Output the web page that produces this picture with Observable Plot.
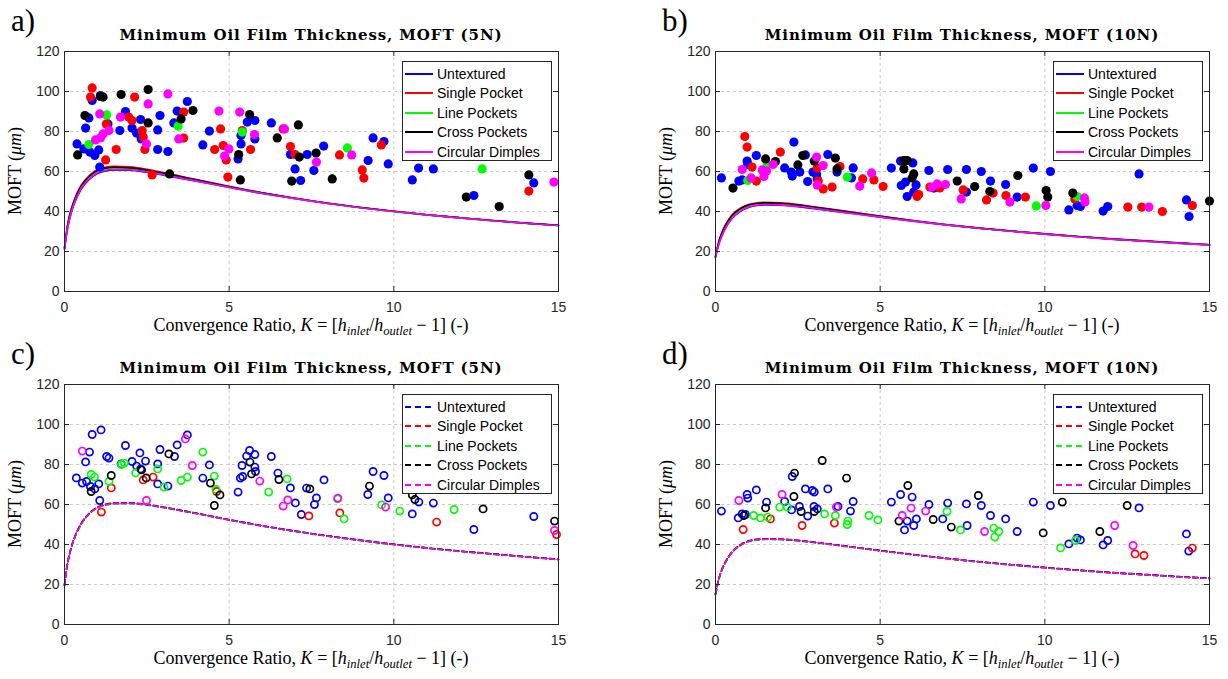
<!DOCTYPE html>
<html><head><meta charset="utf-8">
<script src="https://cdn.jsdelivr.net/npm/d3@7"></script>
<script src="https://cdn.jsdelivr.net/npm/@observablehq/plot@0.6"></script>
<style>
html,body{margin:0;padding:0;background:#fff;}
body{width:1228px;height:679px;overflow:hidden;position:relative;font-family:"Liberation Sans",Arial,sans-serif;}
.panel{position:absolute;width:577px;height:333px;}
.panel svg{position:absolute;left:0;top:0;}
.ov{position:absolute;white-space:nowrap;color:#000;}
.tag{font-family:"Liberation Serif",serif;font-size:31px;line-height:1;transform:translateY(-50%);}
.title{font-family:"DejaVu Serif",serif;font-weight:bold;font-size:15px;letter-spacing:0.9px;transform:translate(-50%,-50%);}
.xlab{font-family:"Liberation Serif",serif;font-size:18px;transform:translate(-50%,-50%);}
.ylab{font-family:"Liberation Serif",serif;font-size:18px;transform:translate(-50%,-50%) rotate(-90deg);}
.legend{position:absolute;border:1px solid #262626;background:#fff;box-sizing:border-box;}
.lrow{position:absolute;left:0;height:20px;display:flex;align-items:center;font-size:14px;color:#000;}
.lrow svg{position:static;margin-left:2px;margin-right:4px;}
sub{font-size:0.7em;vertical-align:-0.3em;}
</style></head>
<body>
<script>
// ---------------- data ----------------
const xTicks = [0, 5, 10, 15];
const yTicks = [0, 20, 40, 60, 80, 100, 120];
const seriesNames = ["Untextured", "Single Pocket", "Line Pockets", "Cross Pockets", "Circular Dimples"];
const seriesColors = ["#0000ff", "#ff0000", "#00ff00", "#000000", "#ff00ff"];
const panelTags = ["a)", "b)", "c)", "d)"];
const panelTitles = ["Minimum Oil Film Thickness, MOFT (5N)", "Minimum Oil Film Thickness, MOFT (10N)",
                     "Minimum Oil Film Thickness, MOFT (5N)", "Minimum Oil Film Thickness, MOFT (10N)"];

// theoretical curves, MOFT (um) at convergence ratio K
const curveK = [0, 0.05, 0.1, 0.2, 0.3, 0.5, 0.75, 1, 1.25, 1.5, 2, 2.5, 3, 4, 5, 6, 7, 8, 9, 10, 11, 12, 13, 14, 15];

const a_curve_untextured = [21, 27, 32, 39, 44, 51, 56, 59, 60.3, 60.8, 60.6, 59.6, 58.2, 55.2, 52, 49, 46.4, 44, 41.9, 40, 38.3, 36.8, 35.4, 34.1, 33];
const a_curve_single     = [22, 28.5, 34, 41, 46, 53, 58, 61, 62.2, 62.6, 62.3, 61.1, 59.5, 56, 52.6, 49.4, 46.6, 44.1, 42, 40.1, 38.4, 36.9, 35.5, 34.2, 33.1];
const a_curve_line       = [21.5, 27.8, 33, 40, 45, 52, 57, 60, 61.3, 61.7, 61.5, 60.4, 58.8, 55.6, 52.3, 49.2, 46.5, 44, 41.9, 40, 38.3, 36.8, 35.4, 34.1, 33];
const a_curve_cross      = [21.8, 28, 33.5, 40.5, 45.5, 52.5, 57.5, 60.5, 61.7, 62.1, 61.8, 60.7, 59.1, 55.8, 52.4, 49.3, 46.6, 44.1, 42, 40.1, 38.4, 36.9, 35.5, 34.2, 33.1];
const a_curve_circular   = [21.5, 27.5, 32.5, 39.5, 44.5, 51.5, 56.4, 59.4, 60.6, 61.1, 60.9, 59.9, 58.4, 55.3, 52.1, 49.1, 46.5, 44, 41.9, 40, 38.3, 36.8, 35.4, 34.1, 33];

const b_curve_untextured = [17, 20.5, 23.5, 28, 31.5, 36.5, 40, 42, 43, 43.3, 43.1, 42.4, 41.4, 39.3, 37.2, 35.2, 33.3, 31.6, 30.1, 28.7, 27.4, 26.2, 25.2, 24.2, 23.3];
const b_curve_single     = [17.5, 21.5, 25, 29.8, 33.3, 38.3, 41.6, 43.5, 44.3, 44.6, 44.3, 43.5, 42.4, 40.1, 37.7, 35.5, 33.5, 31.7, 30.2, 28.8, 27.5, 26.3, 25.3, 24.3, 23.4];
const b_curve_line       = [17.2, 21, 24.3, 29, 32.5, 37.5, 40.8, 42.8, 43.7, 44, 43.7, 43, 41.9, 39.7, 37.5, 35.3, 33.4, 31.6, 30.1, 28.7, 27.4, 26.2, 25.2, 24.2, 23.3];
const b_curve_cross      = [17.4, 21.3, 24.8, 29.5, 33, 38, 41.3, 43.2, 44, 44.3, 44, 43.2, 42.1, 39.9, 37.6, 35.4, 33.4, 31.7, 30.2, 28.8, 27.5, 26.3, 25.3, 24.3, 23.4];
const b_curve_circular   = [17.1, 20.7, 23.7, 28.2, 31.7, 36.7, 40.2, 42.2, 43.2, 43.5, 43.3, 42.6, 41.6, 39.4, 37.3, 35.2, 33.3, 31.6, 30.1, 28.7, 27.4, 26.2, 25.2, 24.2, 23.3];

const c_curve_untextured = [19.5, 26, 31, 38, 43, 50, 55.3, 58.3, 59.8, 60.4, 60.5, 59.8, 58.5, 55.5, 52.3, 49.3, 46.6, 44.2, 42, 40, 38.2, 36.6, 35.2, 33.8, 32.5];
const c_curve_single     = [19.8, 26.4, 31.4, 38.4, 43.4, 50.4, 55.6, 58.6, 60.1, 60.7, 60.8, 60, 58.7, 55.6, 52.4, 49.4, 46.7, 44.3, 42.1, 40.1, 38.3, 36.7, 35.3, 33.9, 32.6];
const c_curve_line       = [19.4, 25.9, 30.9, 37.9, 42.9, 49.9, 55.2, 58.2, 59.7, 60.3, 60.4, 59.7, 58.4, 55.4, 52.2, 49.2, 46.5, 44.1, 41.9, 39.9, 38.1, 36.5, 35.1, 33.7, 32.4];
const c_curve_cross      = [19.7, 26.2, 31.2, 38.2, 43.2, 50.2, 55.5, 58.5, 60, 60.6, 60.7, 59.9, 58.6, 55.6, 52.4, 49.4, 46.7, 44.3, 42.1, 40.1, 38.3, 36.7, 35.3, 33.9, 32.6];
const c_curve_circular   = [19.6, 26.1, 31.1, 38.1, 43.1, 50.1, 55.4, 58.4, 59.9, 60.5, 60.6, 59.9, 58.6, 55.5, 52.3, 49.3, 46.6, 44.2, 42, 40, 38.2, 36.6, 35.2, 33.8, 32.5];

const d_curve_untextured = [15, 19, 22.5, 27.5, 31, 36, 39.5, 41.5, 42.3, 42.6, 42.5, 41.9, 41, 39, 36.9, 34.9, 33, 31.3, 29.8, 28.4, 27.1, 25.9, 24.9, 23.9, 23];
const d_curve_single     = [15.3, 19.3, 22.8, 27.8, 31.3, 36.3, 39.8, 41.8, 42.6, 42.9, 42.7, 42.1, 41.2, 39.1, 37, 35, 33.1, 31.4, 29.9, 28.5, 27.2, 26, 25, 24, 23.1];
const d_curve_line       = [14.9, 18.9, 22.4, 27.4, 30.9, 35.9, 39.4, 41.4, 42.2, 42.5, 42.4, 41.8, 40.9, 38.9, 36.8, 34.8, 32.9, 31.2, 29.7, 28.3, 27, 25.8, 24.8, 23.8, 22.9];
const d_curve_cross      = [15.2, 19.2, 22.7, 27.7, 31.2, 36.2, 39.7, 41.7, 42.5, 42.8, 42.6, 42, 41.1, 39.1, 37, 35, 33.1, 31.4, 29.9, 28.5, 27.2, 26, 25, 24, 23.1];
const d_curve_circular   = [15.1, 19.1, 22.6, 27.6, 31.1, 36.1, 39.6, 41.6, 42.4, 42.7, 42.6, 42, 41.1, 39, 36.9, 34.9, 33, 31.3, 29.8, 28.4, 27.1, 25.9, 24.9, 23.9, 23];

// measured points [K, MOFT]
const a_pts_untextured = [[0.84,95.5],[1.09,98],[0.38,73.8],[0.64,81.7],[0.74,86.8],[0.77,69.7],[0.92,68],[1.04,70.8],[0.59,71.3],[1.32,83.8],[1.07,62.2],[1.85,90],[1.68,80.5],[2.05,81.7],[2.19,79.2],[2.31,86],[2.33,76.3],[2.83,71],[2.83,80.8],[2.9,88],[3.14,70],[3.32,84.3],[3.42,90.2],[3.73,95],[4.2,73.3],[4.4,80.2],[5.27,66.3],[5.36,73.8],[5.36,78],[5.55,84.7],[5.78,85.5],[5.78,76.3],[6.28,84.3],[6.86,68.5],[7.0,61.3],[7.17,55.5],[7.37,68.5],[7.57,60.5],[7.87,72.7],[9.37,76.8],[9.7,75],[9.22,65.5],[9.83,63.8],[10.56,55.8],[10.75,61.7],[11.2,61.3],[12.43,48],[14.25,54.3]];
const a_pts_single = [[0.84,101.8],[0.79,97.2],[2.13,97.2],[1.27,83.8],[1.95,87.2],[2.05,85.5],[2.36,80.5],[2.39,77.2],[2.44,71],[1.57,71],[1.25,65.8],[2.66,58.3],[3.62,89.7],[3.62,76.7],[4.74,81.3],[4.56,71],[4.82,73],[4.91,65.8],[4.96,57.2],[5.4,80.5],[5.65,71],[6.64,81.3],[6.86,72.5],[7.0,68.5],[8.35,68.3],[9.04,60.8],[9.09,56.7],[9.62,73.3],[14.1,50.2]];
const a_pts_line = [[0.74,73.5],[1.28,88.3],[3.45,82.7],[5.4,79.7],[8.59,71.8],[12.68,61.3]];
const a_pts_cross = [[0.4,68.3],[0.62,88],[1.09,97.5],[1.17,97.2],[1.72,98.5],[2.54,101],[2.54,84.3],[3.54,86.3],[3.9,90.5],[3.19,58.8],[5.34,55.8],[5.29,68.5],[5.62,88.5],[6.46,76.8],[7.1,83.3],[7.13,67.2],[6.9,55.2],[7.64,69.2],[8.13,56.3],[12.2,47.2],[13.2,42.5],[14.1,58.3]];
const a_pts_circular = [[1.07,88.8],[0.94,75.8],[1.09,76.8],[1.17,78.8],[1.35,80.5],[1.7,87.2],[2.54,93.8],[2.49,73.8],[3.14,98.8],[3.47,76.3],[4.69,90.2],[5.32,89.7],[4.86,67.7],[4.99,71.3],[5.77,78.5],[6.68,81.3],[7.65,64.7],[8.72,68.3],[14.86,54.7]];

const b_pts_untextured = [[0.18,56.8],[0.71,55.2],[0.81,55.8],[0.96,65.2],[0.98,63.5],[1.24,68],[2.1,61.8],[2.3,59.7],[2.33,57.7],[2.38,74.7],[2.56,59.7],[2.73,68.3],[2.8,55],[2.96,59.7],[3.07,58.5],[3.09,56.3],[3.41,68.5],[3.69,59.7],[4.18,61.8],[4.13,56.8],[5.34,61.7],[5.62,65.2],[5.99,64.3],[5.64,53],[5.77,54.7],[6.09,53.3],[5.82,47.5],[6.02,49.7],[6.48,60.5],[7.05,61],[7.62,61],[6.63,51.7],[7.62,49.7],[8.07,60],[8.35,55.2],[8.81,53.5],[9.16,47.2],[9.65,61.7],[10.17,60],[10.73,40.8],[10.98,43],[11.08,42.5],[11.77,40.2],[11.91,42.5],[12.86,58.8],[14.3,45.8],[14.38,37.5]];
const b_pts_single = [[0.89,77.5],[0.96,72.2],[1.11,62.2],[1.24,55.2],[1.97,69.7],[3.09,61.8],[3.12,55.2],[3.27,51.3],[3.54,52.2],[3.78,62.5],[4.47,56.3],[4.81,55.8],[5.09,52.5],[6.12,47.5],[6.17,48.5],[6.51,52.2],[6.81,51.8],[7.52,50.8],[8.23,45.8],[8.43,49.2],[8.82,48],[9.41,47.2],[10.91,46.3],[12.52,42.2],[12.94,42.2],[13.57,40],[14.48,43]];
const b_pts_line = [[0.98,55.5],[1.57,63.5],[4.0,57.2],[9.74,42.8],[10.98,47.5]];
const b_pts_cross = [[0.53,51.7],[1.52,66.3],[1.82,65],[2.5,63.3],[2.65,68],[3.0,65.2],[3.64,66.7],[3.69,61.3],[5.72,65.5],[5.72,61.3],[5.82,65.5],[6.02,58.8],[5.97,56.8],[7.34,55.2],[7.87,52.5],[8.33,50],[9.18,58],[10.04,50.5],[10.09,47.2],[10.85,49.2],[15.0,45.2]];
const b_pts_circular = [[0.81,61],[1.08,56.8],[1.42,60.8],[1.47,57.5],[1.55,60.2],[1.75,63.5],[3.07,67.2],[3.27,63],[3.09,53.3],[4.38,52.7],[4.74,59.3],[6.58,52.2],[6.73,53.8],[6.98,53.5],[7.46,46.3],[8.94,44.7],[10.03,43],[11.2,46.8],[11.22,44.7],[13.16,42.2]];

const c_pts_untextured = [[0.84,95],[1.11,97.3],[0.76,86.2],[0.64,81.3],[0.36,73.3],[0.54,70.7],[0.67,71.5],[0.79,69],[0.92,67.8],[1.04,70.3],[1.07,62],[1.28,84],[1.35,83.2],[1.85,89.5],[1.72,80.3],[2.05,81.5],[2.19,79.2],[2.29,85.8],[2.46,81.7],[2.31,77.8],[2.83,80.3],[2.9,87.5],[2.83,70.3],[3.14,69.2],[3.34,84],[3.42,89.8],[3.73,94.8],[4.2,73.2],[4.4,79.8],[5.27,66.2],[5.34,73.2],[5.41,74],[5.39,79.5],[5.53,84.2],[5.62,87],[5.78,85],[5.78,78.7],[5.8,76.5],[6.28,84],[6.48,75.7],[6.86,68.3],[7.01,60.8],[7.19,55],[7.35,68.2],[7.59,60],[7.65,63.3],[7.88,72.3],[9.21,65],[9.37,76.5],[9.7,74.5],[9.83,63.3],[10.56,55.3],[10.76,61.2],[11.2,60.7],[12.43,47.5],[14.25,54]];
const c_pts_single = [[1.42,68.3],[1.12,56.2],[2.39,72.3],[2.69,73.7],[4.62,66.5],[7.42,54.3],[8.36,55.8],[11.3,51.2],[14.94,45]];
const c_pts_line = [[0.81,75],[0.91,73.7],[1.35,71.5],[1.73,80],[1.82,80.7],[2.16,75.8],[2.83,77.8],[3.02,68.7],[3.54,72],[3.73,73.7],[4.2,86.2],[4.55,74.2],[4.6,67.5],[6.2,66.2],[6.76,72.8],[8.29,62.8],[8.49,52.8],[9.63,59.8],[10.18,56.7],[11.83,57.5]];
const c_pts_cross = [[0.81,66.5],[1.42,74.5],[2.34,77.3],[2.48,73.3],[3.17,85.3],[4.43,70.7],[4.72,64.8],[4.55,59.5],[5.63,81.2],[5.68,75.3],[6.51,72.5],[7.45,67.8],[9.26,69.2],[10.56,64.8],[10.64,62.5],[12.71,57.8],[14.88,51.7]];
const c_pts_circular = [[0.54,86.7],[3.67,92.8],[3.88,79.5],[2.49,62],[5.93,71.7],[6.78,62.3],[6.64,59.2],[8.3,63.2],[9.75,58.7],[14.88,47]];

const d_pts_untextured = [[0.18,56.7],[0.69,53.3],[0.81,55.3],[0.91,55],[0.96,65],[0.98,63.2],[1.24,67.3],[1.55,61.2],[2.1,61.5],[2.31,57.3],[2.33,74],[2.55,59],[2.73,67.8],[2.8,54.2],[2.94,67],[3.0,66.2],[2.99,59],[3.09,57.8],[3.41,67.8],[3.72,59],[4.1,56.7],[4.18,61.5],[5.34,61.2],[5.62,65],[5.97,63.7],[5.82,51.7],[5.74,47.3],[6.02,49.5],[6.1,52.8],[6.48,60],[6.9,52.8],[7.05,60.7],[7.62,60.3],[7.64,49.5],[8.07,59.5],[8.35,54.5],[8.81,52.8],[9.16,46.5],[9.65,61.2],[10.17,59.5],[10.73,40.3],[10.98,43.2],[11.08,42.3],[11.77,39.8],[11.91,42],[12.86,58.3],[14.3,45.3],[14.37,36.7]];
const d_pts_single = [[1.67,52.8],[0.84,47.5],[2.63,49.5],[3.61,50.7],[12.74,35.3],[13.01,34.5],[14.48,38.2]];
const d_pts_line = [[1.16,54.5],[1.37,53.3],[1.59,53.7],[1.95,58.7],[2.18,58.7],[3.31,55.3],[3.64,54.5],[4.02,51.7],[4.0,50],[4.66,54.5],[4.93,52.3],[7.03,56.5],[7.44,47.3],[8.45,48.2],[8.48,43.7],[8.6,46.5],[10.48,38.3],[10.93,42]];
const d_pts_cross = [[0.86,54.5],[1.52,58.3],[2.4,75.7],[2.38,64],[2.6,56.5],[3.0,56.5],[3.24,82],[3.98,73.2],[5.57,51.7],[5.84,69.5],[6.61,52.5],[7.16,48.7],[7.98,64.5],[9.95,45.8],[10.53,61.2],[11.67,46.5],[12.5,59.5]];
const d_pts_circular = [[0.71,62],[2.02,65],[3.67,58.7],[5.67,54.5],[5.94,58.2],[6.38,56.7],[8.17,46.5],[12.12,49.5],[12.68,39.5]];

// ---------------- layout ----------------
const W = 577, H = 333, ML = 64, MR = 19, MT = 51, MB = 42;
const PW = W - ML - MR, PH = H - MT - MB;
const AX = "#262626";

const panels = [
  {left: 0,   top: 0,   curves: [a_curve_untextured, a_curve_single, a_curve_line, a_curve_cross, a_curve_circular], pts: [a_pts_untextured, a_pts_single, a_pts_line, a_pts_cross, a_pts_circular], dashed: false, filled: true},
  {left: 651, top: 0,   curves: [b_curve_untextured, b_curve_single, b_curve_line, b_curve_cross, b_curve_circular], pts: [b_pts_untextured, b_pts_single, b_pts_line, b_pts_cross, b_pts_circular], dashed: false, filled: true},
  {left: 0,   top: 333, curves: [c_curve_untextured, c_curve_single, c_curve_line, c_curve_cross, c_curve_circular], pts: [c_pts_untextured, c_pts_single, c_pts_line, c_pts_cross, c_pts_circular], dashed: true, filled: false},
  {left: 651, top: 333, curves: [d_curve_untextured, d_curve_single, d_curve_line, d_curve_cross, d_curve_circular], pts: [d_pts_untextured, d_pts_single, d_pts_line, d_pts_cross, d_pts_circular], dashed: true, filled: false}
];

const overlays = [];
panels.forEach((p, pi) => {
  const div = document.createElement("div");
  div.className = "panel";
  div.style.left = p.left + "px";
  div.style.top = p.top + "px";
  document.body.appendChild(div);

  const curveData = [];
  p.curves.forEach((arr, i) => arr.forEach((m, j) => curveData.push({K: curveK[j], M: m, series: seriesNames[i]})));
  const ptData = [];
  p.pts.forEach((arr, i) => arr.forEach(([k, m]) => ptData.push({K: k, M: m, series: seriesNames[i]})));

  const lineOpts = {x: "K", y: "M", z: "series", stroke: "series", strokeWidth: 1.6, curve: "monotone-x"};
  if (p.dashed) lineOpts.strokeDasharray = "5,3";

  const dotMark = p.filled
    ? Plot.dot(ptData, {x: "K", y: "M", fill: "series", r: 4.6})
    : Plot.dot(ptData, {x: "K", y: "M", stroke: "series", fill: "none", r: 3.6, strokeWidth: 1.7});

  const chart = Plot.plot({
    width: W, height: H, marginLeft: ML, marginRight: MR, marginTop: MT, marginBottom: MB,
    style: {background: "transparent", fontFamily: '"Liberation Sans", Arial, sans-serif', fontSize: "14px", color: AX, overflow: "visible"},
    x: {domain: [0, 15]},
    y: {domain: [0, 120]},
    color: {domain: seriesNames, range: seriesColors},
    marks: [
      Plot.gridX({ticks: xTicks, stroke: "#c4c4c4", strokeOpacity: 1, strokeWidth: 0.9, strokeDasharray: "3,3"}),
      Plot.gridY({ticks: yTicks, stroke: "#c4c4c4", strokeOpacity: 1, strokeWidth: 0.9, strokeDasharray: "3,3"}),
      Plot.line(curveData, lineOpts),
      dotMark,
      Plot.frame({stroke: AX, strokeWidth: 1}),
      Plot.ruleX(xTicks, {insetTop: PH - 5, stroke: AX}),
      Plot.ruleX(xTicks, {insetBottom: PH - 5, stroke: AX}),
      Plot.ruleY(yTicks, {insetRight: PW - 5, stroke: AX}),
      Plot.ruleY(yTicks, {insetLeft: PW - 5, stroke: AX}),
      Plot.axisX({ticks: xTicks, tickSize: 0, tickPadding: 11, label: null, fontSize: 14}),
      Plot.axisY({ticks: yTicks, tickSize: 0, tickPadding: 5, label: null, fontSize: 14})
    ]
  });
  div.appendChild(chart);
  overlays.push({div, p, pi});
});

// overlays (text + legends) drawn after all charts
overlays.forEach(({div, p, pi}) => {
  const cx = ML + PW / 2;
  const add = (cls, html, x, y) => {
    const e = document.createElement("div");
    e.className = "ov " + cls;
    e.innerHTML = html;
    e.style.left = x + "px";
    e.style.top = y + "px";
    div.appendChild(e);
    return e;
  };
  add("tag", panelTags[pi], 11, 20);
  add("title", panelTitles[pi], cx, 35);
  add("xlab", 'Convergence Ratio, <i>K</i> = [<i>h</i><sub><i>inlet</i></sub>/<i>h</i><sub><i>outlet</i></sub> &minus; 1] (-)', cx, 327);
  add("ylab", 'MOFT (<i>&mu;m</i>)', 15, MT + PH / 2);

  const leg = document.createElement("div");
  leg.className = "legend";
  leg.style.left = "402px";
  leg.style.top = "61px";
  leg.style.width = "150px";
  leg.style.height = "100px";
  seriesNames.forEach((name, i) => {
    const row = document.createElement("div");
    row.className = "lrow";
    row.style.top = (1.5 + i * 19.6) + "px";
    const dash = p.dashed ? ' stroke-dasharray="6,4"' : '';
    row.innerHTML = `<svg width="28" height="6"><line x1="0" y1="3" x2="28" y2="3" stroke="${seriesColors[i]}" stroke-width="2"${dash}/></svg><span>${name}</span>`;
    leg.appendChild(row);
  });
  div.appendChild(leg);
});
</script>
</body></html>
